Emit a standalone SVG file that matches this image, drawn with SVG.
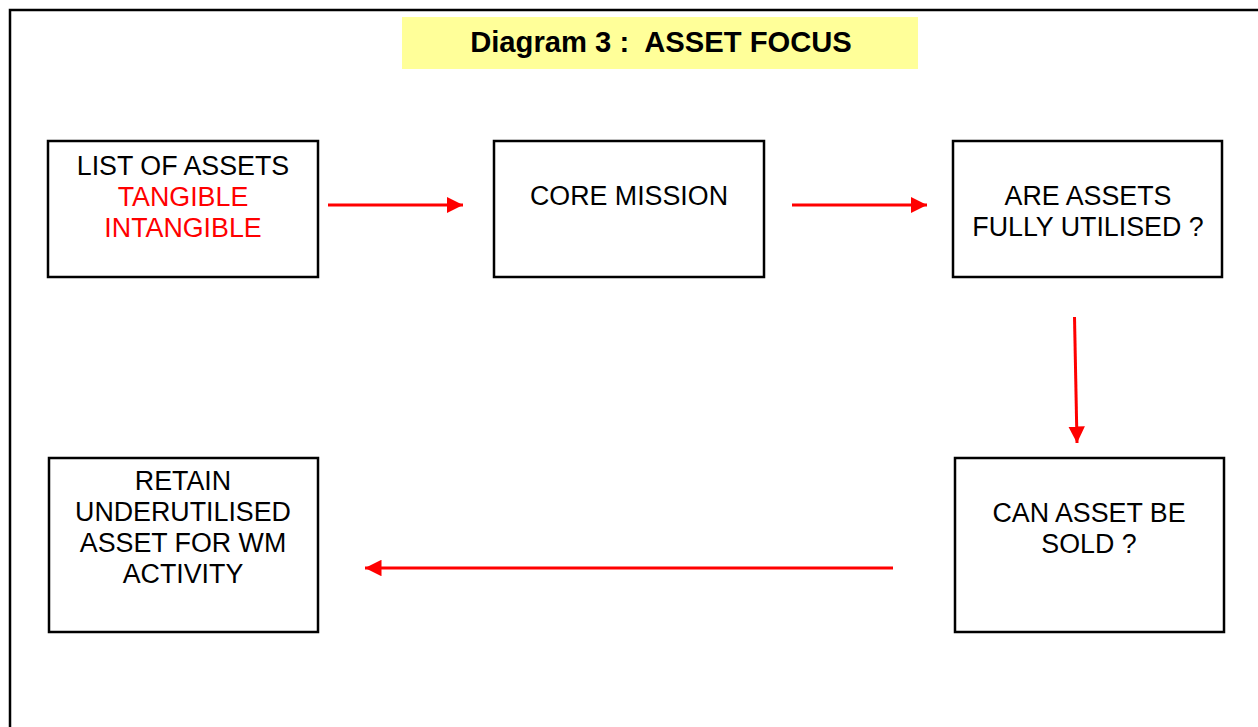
<svg xmlns="http://www.w3.org/2000/svg" width="1258" height="727" viewBox="0 0 1258 727">
<style>
.box{fill:#fff;stroke:#000;stroke-width:2.5}
.t{font-family:"Liberation Sans",Arial,sans-serif;font-size:26.8px;text-anchor:middle;fill:#000}
.red{fill:#ff0000}
.title{font-family:"Liberation Sans",Arial,sans-serif;font-size:29.2px;font-weight:bold;text-anchor:middle;fill:#000;white-space:pre}
.conn{stroke:#ff0000;stroke-width:3;fill:none;marker-end:url(#ah)}
</style>
<defs>
<marker id="ah" viewBox="0 0 10 10" refX="10" refY="5" markerWidth="5.5" markerHeight="5.5" markerUnits="strokeWidth" orient="auto">
<path d="M0,0 L10,5 L0,10 z" fill="#ff0000"/>
</marker>
</defs>
<rect width="1258" height="727" fill="#fff"/>
<rect x="10" y="10" width="1260" height="730" fill="none" stroke="#000" stroke-width="2.5"/>
<g id="title">
<rect x="402" y="17" width="516" height="52" fill="#ffff99"/>
<text class="title" x="661" y="52" xml:space="preserve">Diagram 3 :  ASSET FOCUS</text>
</g>
<g id="n1">
<rect class="box" x="48" y="141" width="270" height="136"/>
<text class="t" x="183" y="175">LIST OF ASSETS</text>
<text class="t red" x="183" y="206">TANGIBLE</text>
<text class="t red" x="183" y="237">INTANGIBLE</text>
</g>
<g id="n2">
<rect class="box" x="494" y="141" width="270" height="136"/>
<text class="t" x="629" y="205">CORE MISSION</text>
</g>
<g id="n3">
<rect class="box" x="953" y="141" width="269" height="136"/>
<text class="t" x="1088" y="205">ARE ASSETS</text>
<text class="t" x="1088" y="236">FULLY UTILISED ?</text>
</g>
<g id="n4">
<rect class="box" x="955" y="458" width="269" height="174"/>
<text class="t" x="1089" y="522">CAN ASSET BE</text>
<text class="t" x="1089" y="553">SOLD ?</text>
</g>
<g id="n5">
<rect class="box" x="49" y="458" width="269" height="174"/>
<text class="t" x="183" y="490">RETAIN</text>
<text class="t" x="183" y="521">UNDERUTILISED</text>
<text class="t" x="183" y="552">ASSET FOR WM</text>
<text class="t" x="183" y="583">ACTIVITY</text>
</g>
<g id="connectors">
<line class="conn" x1="328" y1="205" x2="463" y2="205"/>
<line class="conn" x1="792" y1="205" x2="927" y2="205"/>
<line class="conn" x1="1074.5" y1="317" x2="1077" y2="443"/>
<line class="conn" x1="893" y1="568" x2="365" y2="568"/>
</g>
</svg>
